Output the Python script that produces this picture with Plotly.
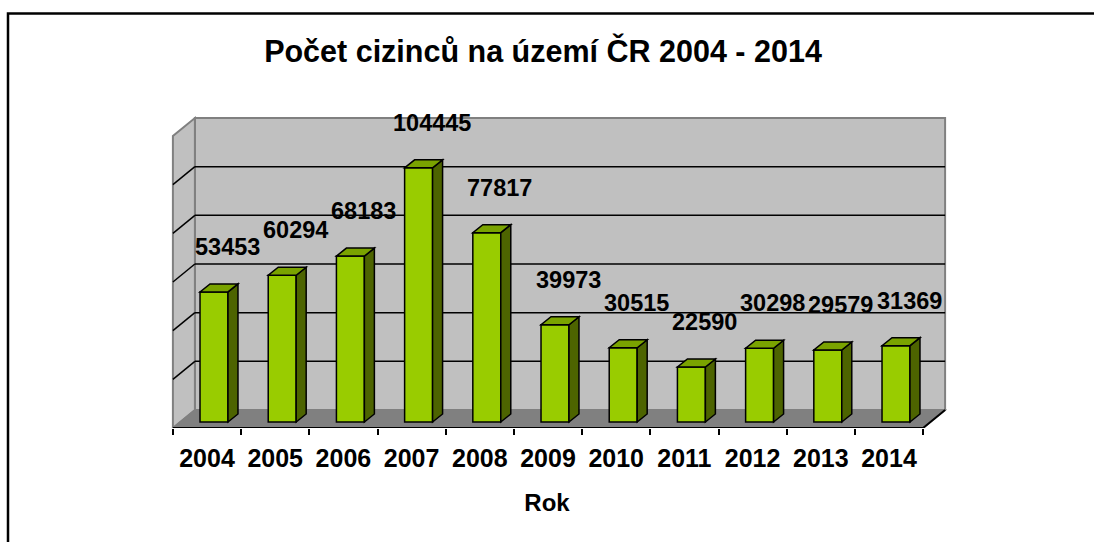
import plotly.graph_objects as go

# ---- data ----
years = [2004, 2005, 2006, 2007, 2008, 2009, 2010, 2011, 2012, 2013, 2014]
year_labels = [str(y) for y in years]
foreigners = [53453, 60294, 68183, 104445, 77817, 39973, 30515, 22590, 30298, 29579, 31369]
grid_values = [0, 20000, 40000, 60000, 80000, 100000, 120000]
title_text = "Počet cizinců na území ČR 2004 - 2014"
x_title = "Rok"

# ---- layout constants (pixel geometry of the pseudo-3D frame) ----
W, H = 1094, 542
PLOT_BOTTOM = 428            # pixel row of the floor's front edge
PXC = 68.2                   # pixels per category
UPP = 120000 / 292           # value units per pixel
BAR_X0 = 214                 # pixel x of first bar (bar plane)
BAR_Y0 = 422                 # pixel y of value 0 (bar plane)
FRONT = (-7, -6)             # offset of the front plane from bar plane (px right, px up)
BACK = (15, 12)              # offset of back wall from bar plane
DEPTH = (10, 8)              # bar depth
HALF = 0.205                 # half bar width in categories

FONT = "Arial, Liberation Sans, sans-serif"
FRONT_COL = "#99CC00"
SIDE_COL = "#4D6400"
TOP_COL = "#7AA300"
WALL_COL = "#C0C0C0"
FLOOR_COL = "#808080"
EDGE_COL = "#808080"

def X(x, dpx=0):
    return x + dpx / PXC

def Y(v, dpx_up=0):
    return v + dpx_up * UPP

x_lo = years[0] - 0.5
x_hi = years[-1] + 0.5
vmax = grid_values[-1]

def poly(pts):
    return "M " + " L ".join(f"{a},{b}" for a, b in pts) + " Z"

shapes = []
# back wall
shapes.append(dict(type="path", xref="x", yref="y", layer="below",
                   path=poly([(X(x_lo, BACK[0]), Y(0, BACK[1])), (X(x_hi, BACK[0]), Y(0, BACK[1])),
                              (X(x_hi, BACK[0]), Y(vmax, BACK[1])), (X(x_lo, BACK[0]), Y(vmax, BACK[1]))]),
                   fillcolor=WALL_COL, line=dict(color=EDGE_COL, width=2)))
# side wall
shapes.append(dict(type="path", xref="x", yref="y", layer="below",
                   path=poly([(X(x_lo, FRONT[0]), Y(0, FRONT[1])), (X(x_lo, FRONT[0]), Y(vmax, FRONT[1])),
                              (X(x_lo, BACK[0]), Y(vmax, BACK[1])), (X(x_lo, BACK[0]), Y(0, BACK[1]))]),
                   fillcolor=WALL_COL, line=dict(color=EDGE_COL, width=2)))
# gridlines
for v in grid_values[1:-1]:
    shapes.append(dict(type="line", xref="x", yref="y", layer="below",
                       x0=X(x_lo, BACK[0]), y0=Y(v, BACK[1]), x1=X(x_hi, BACK[0]), y1=Y(v, BACK[1]),
                       line=dict(color="black", width=1.5)))
    shapes.append(dict(type="line", xref="x", yref="y", layer="below",
                       x0=X(x_lo, FRONT[0]), y0=Y(v, FRONT[1]), x1=X(x_lo, BACK[0]), y1=Y(v, BACK[1]),
                       line=dict(color="black", width=1.5)))
# floor
shapes.append(dict(type="path", xref="x", yref="y", layer="below",
                   path=poly([(X(x_lo, FRONT[0]), Y(0, FRONT[1])), (X(x_hi, FRONT[0]), Y(0, FRONT[1])),
                              (X(x_hi, BACK[0]), Y(0, BACK[1])), (X(x_lo, BACK[0]), Y(0, BACK[1]))]),
                   fillcolor=FLOOR_COL, line=dict(color=EDGE_COL, width=1.5)))
# floor front edge (axis line) and right edge
shapes.append(dict(type="line", xref="x", yref="y", layer="below",
                   x0=X(x_lo, FRONT[0]), y0=Y(0, FRONT[1]), x1=X(x_hi, FRONT[0]), y1=Y(0, FRONT[1]),
                   line=dict(color="black", width=2)))
shapes.append(dict(type="line", xref="x", yref="y", layer="below",
                   x0=X(x_hi, FRONT[0]), y0=Y(0, FRONT[1]), x1=X(x_hi, BACK[0]), y1=Y(0, BACK[1]),
                   line=dict(color="black", width=2)))

# bar side & top faces
for yr, v in zip(years, foreigners):
    r = yr + HALF
    l = yr - HALF
    shapes.append(dict(type="path", xref="x", yref="y", layer="above",
                       path=poly([(r, 0), (X(r, DEPTH[0]), Y(0, DEPTH[1])),
                                  (X(r, DEPTH[0]), Y(v, DEPTH[1])), (r, v)]),
                       fillcolor=SIDE_COL, line=dict(color="black", width=1.5)))
    shapes.append(dict(type="path", xref="x", yref="y", layer="above",
                       path=poly([(l, v), (r, v), (X(r, DEPTH[0]), Y(v, DEPTH[1])),
                                  (X(l, DEPTH[0]), Y(v, DEPTH[1]))]),
                       fillcolor=TOP_COL, line=dict(color="black", width=1.5)))

# outer chart border: left and top edges only visible (rest lies outside the picture)
shapes.append(dict(type="path", xref="paper", yref="paper", layer="below",
                   path=(f"M {8 / W},{(PLOT_BOTTOM - H - 20) / PLOT_BOTTOM} "
                         f"L {8 / W},{1 - 13.5 / PLOT_BOTTOM} L 1.05,{1 - 13.5 / PLOT_BOTTOM}"),
                   line=dict(color="black", width=2.5)))

annotations = []
for yr, v in zip(years, foreigners):
    annotations.append(dict(x=X(yr, 13), y=Y(v, 45), xref="x", yref="y", text=str(v),
                            showarrow=False, xanchor="center", yanchor="middle",
                            font=dict(family=FONT, size=23.5, color="black", weight="bold")))

fig = go.Figure()
fig.add_trace(go.Bar(x=years, y=foreigners, width=2 * HALF,
                     marker=dict(color=FRONT_COL, line=dict(color="black", width=1.5)),
                     hoverinfo="x+y", showlegend=False))
fig.add_trace(go.Scatter(x=year_labels, y=[None] * len(year_labels), xaxis="x2", yaxis="y",
                         mode="markers", showlegend=False, hoverinfo="skip"))

front_cat0 = BAR_X0 + FRONT[0]
fig.update_layout(
    width=W, height=H,
    margin=dict(l=0, r=0, t=0, b=H - PLOT_BOTTOM),
    paper_bgcolor="white", plot_bgcolor="rgba(0,0,0,0)",
    title=dict(text=title_text, x=543 / W, xanchor="center", y=1 - 51 / H, yanchor="middle",
               font=dict(family=FONT, size=30.5, color="black", weight="bold")),
    xaxis=dict(visible=False, range=[years[0] - BAR_X0 / PXC, years[0] + (W - BAR_X0) / PXC], fixedrange=True),
    yaxis=dict(visible=False, range=[-(PLOT_BOTTOM - BAR_Y0) * UPP, BAR_Y0 * UPP], fixedrange=True),
    xaxis2=dict(type="category", categoryorder="array", categoryarray=year_labels,
                overlaying="x", anchor="y", side="bottom",
                range=[-front_cat0 / PXC, (W - front_cat0) / PXC],
                tickson="boundaries", ticks="outside", ticklen=6, tickwidth=1.5, tickcolor="black",
                ticklabelstandoff=13, fixedrange=True,
                showline=False, showgrid=False, zeroline=False,
                tickfont=dict(family=FONT, size=25, color="black", weight="bold"),
                title=dict(text=x_title, standoff=23,
                           font=dict(family=FONT, size=24, color="black", weight="bold"))),
    shapes=shapes, annotations=annotations,
)

fig.write_html("out.html", config={"displayModeBar": False},
               post_script="document.body.style.margin='0';document.body.style.overflow='hidden';")
